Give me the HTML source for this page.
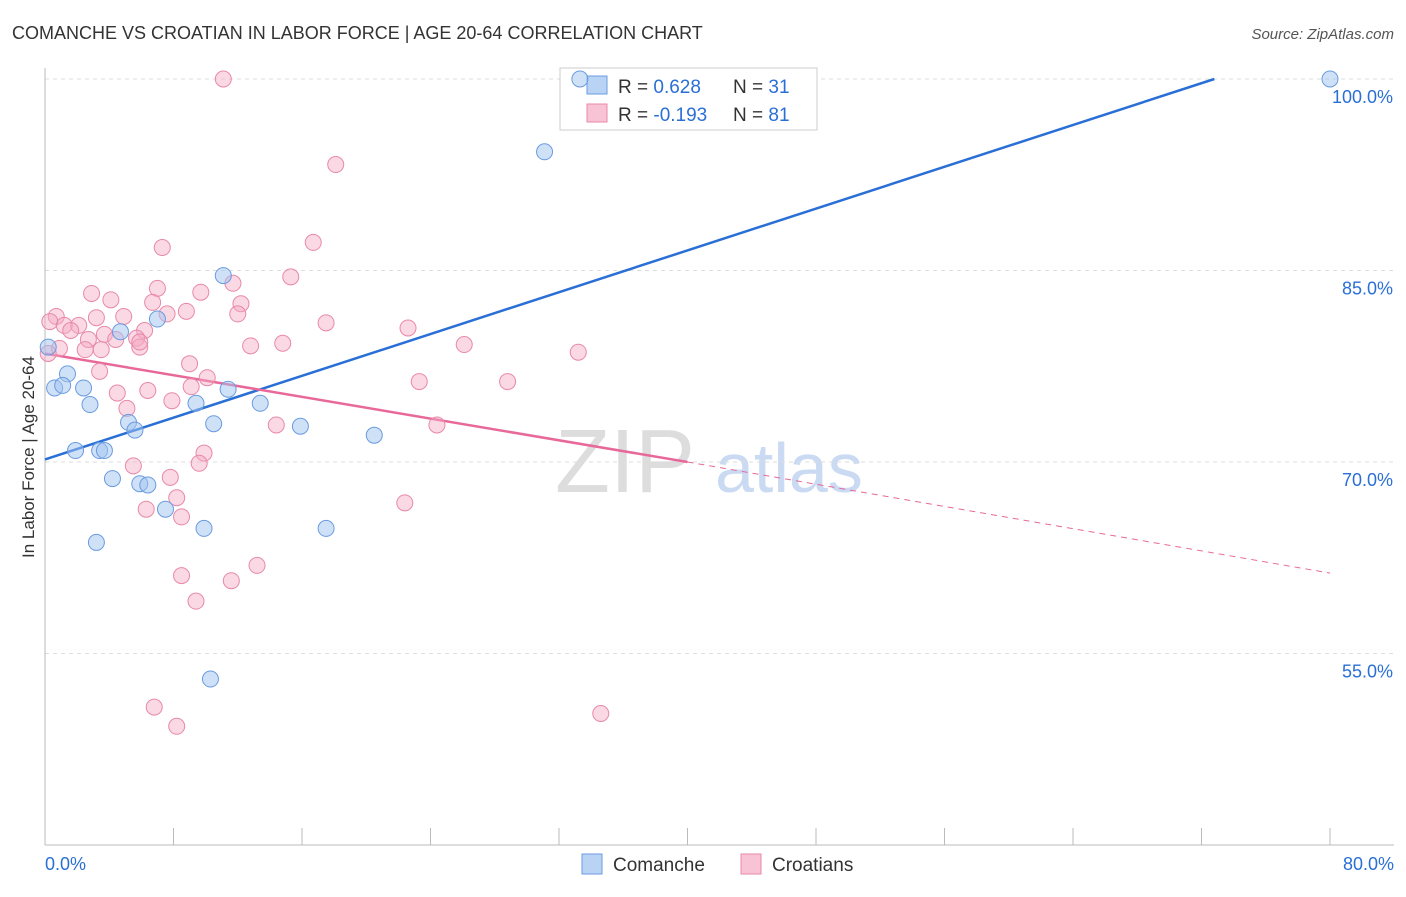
<!DOCTYPE html>
<html><head><meta charset="utf-8"><style>
body{margin:0;background:#fff;font-family:"Liberation Sans",sans-serif;}
svg text{font-family:"Liberation Sans",sans-serif;}
</style></head><body>
<svg id="chart" width="1406" height="892">
<text x="12" y="39" font-size="18" fill="#333">COMANCHE VS CROATIAN IN LABOR FORCE | AGE 20-64 CORRELATION CHART</text>
<text x="1394" y="39" font-size="15" fill="#555" text-anchor="end" font-style="italic">Source: ZipAtlas.com</text>
<text x="34" y="457" font-size="17" fill="#333" text-anchor="middle" transform="rotate(-90 34 457)">In Labor Force | Age 20-64</text>
<text x="555" y="492" font-size="90" fill="#ddd" font-family="Liberation Serif">ZIP</text>
<text x="715" y="492" font-size="70" fill="#c9daf2">atlas</text>
<g id="grid"></g><g id="lines"></g>
<g>
<rect x="560" y="68" width="257" height="62" fill="#fff" stroke="#ccc"/>
<rect x="587" y="76" width="20" height="18" fill="#b9d3f5" stroke="#6a9be0"/>
<rect x="587" y="104" width="20" height="18" fill="#f8c3d4" stroke="#e889a8"/>
<text x="618" y="93" font-size="19" fill="#333">R = <tspan fill="#2a6fd6">0.628</tspan><tspan x="733">N = </tspan><tspan fill="#2a6fd6">31</tspan></text>
<text x="618" y="121" font-size="19" fill="#333">R = <tspan fill="#2a6fd6">-0.193</tspan><tspan x="733">N = </tspan><tspan fill="#2a6fd6">81</tspan></text>
</g>
<g id="pts"></g>
<g>
<rect x="582" y="854" width="20" height="20" fill="#b9d3f5" stroke="#6a9be0"/>
<text x="613" y="871" font-size="19" fill="#333">Comanche</text>
<rect x="741" y="854" width="20" height="20" fill="#f8c3d4" stroke="#e889a8"/>
<text x="772" y="871" font-size="19" fill="#333">Croatians</text>
</g>
</svg>
<script>
const yTicks=[100,85,70,55];
const xLabels=["0.0%","80.0%"];
const blueX=[33.3,80,31.1,11.1,7.0,4.7,0.2,1.4,0.6,1.1,2.4,2.8,11.4,9.4,13.4,5.2,5.6,10.5,15.9,20.5,1.9,3.4,3.7,4.2,5.9,6.4,7.5,9.9,17.5,3.2,10.3];
const blueY=[100,100,94.3,84.6,81.2,80.2,79.0,76.9,75.8,76.0,75.8,74.5,75.7,74.6,74.6,73.1,72.5,73.0,72.8,72.1,70.9,70.9,70.9,68.7,68.3,68.2,66.3,64.8,64.8,63.7,53.0];
const pinkX=[11.1,18.1,7.3,16.7,15.3,2.9,4.1,7.0,9.7,11.7,6.7,12.2,8.8,12.0,7.6,4.9,3.2,0.7,0.3,1.2,2.1,22.6,17.5,6.2,5.7,3.7,2.7,12.8,14.8,26.1,33.2,5.9,3.5,0.9,0.2,9.0,10.1,3.4,23.3,28.8,6.4,4.5,9.1,5.1,7.9,14.4,24.4,9.9,9.6,5.5,7.8,8.2,6.3,8.5,22.4,13.2,8.5,11.6,9.4,6.8,8.2,34.6,2.5,1.6,4.4,5.9];
const pinkY=[100,93.3,86.8,87.2,84.5,83.2,82.7,83.6,83.3,84.0,82.5,82.4,81.8,81.6,81.6,81.4,81.3,81.4,81.0,80.7,80.7,80.5,80.9,80.3,79.7,80.0,79.6,79.1,79.3,79.2,78.6,79.0,78.8,78.9,78.5,77.7,76.6,77.1,76.3,76.3,75.6,75.4,75.9,74.2,74.8,72.9,72.9,70.7,69.9,69.7,68.8,67.2,66.3,65.7,66.8,61.9,61.1,60.7,59.1,50.8,49.3,50.3,78.8,80.3,79.6,79.4];
const blueLine=[0,70.2,72.8,100];
const pinkLine=[0,78.5,40,70.0,80,61.3];
const X=v=>45+v/80*1285, Y=v=>79+(100-v)*191.5/15;
const NS="http://www.w3.org/2000/svg";
function mk(p,t,a){const e=document.createElementNS(NS,t);for(const k in a)e.setAttribute(k,a[k]);p.appendChild(e);return e;}
const g=document.getElementById('grid');
yTicks.forEach(v=>{
 const l=mk(g,'line',{x1:45,x2:1394,y1:Y(v),y2:Y(v),stroke:'#ddd','stroke-dasharray':'4,4'});
 
 
 const t=mk(g,'text',{x:1393,y:Y(v)+24,'font-size':18,fill:'#2a6fd6','text-anchor':'end'});t.textContent=v.toFixed(1)+'%';
 
 
});
mk(g,'line',{x1:45,x2:45,y1:68,y2:845,stroke:'#bbb'});
mk(g,'line',{x1:45,x2:1394,y1:845,y2:845,stroke:'#bbb'});
for(let i=0;i<=10;i++){const x=X(i*8);mk(g,'line',{x1:x,x2:x,y1:828,y2:845,stroke:'#bbb'});}
[[0,'start',45],[1,'end',1394]].forEach(([i,a,x])=>{const t=mk(g,'text',{x:x,y:870,'font-size':18,fill:'#2a6fd6','text-anchor':a});t.textContent=xLabels[i];
 
 });
const L=document.getElementById('lines');
const bl=mk(L,'line',{x1:X(blueLine[0]),y1:Y(blueLine[1]),x2:X(blueLine[2]),y2:Y(blueLine[3]),stroke:'#2a6fd6','stroke-width':2.5});


const pl=mk(L,'line',{x1:X(pinkLine[0]),y1:Y(pinkLine[1]),x2:X(pinkLine[2]),y2:Y(pinkLine[3]),stroke:'#e8689a','stroke-width':2.5});


const pd=mk(L,'line',{x1:X(pinkLine[2]),y1:Y(pinkLine[3]),x2:X(pinkLine[4]),y2:Y(pinkLine[5]),stroke:'#e8689a','stroke-width':1,'stroke-dasharray':'6,5'});


const P=document.getElementById('pts');
pinkX.forEach((x,i)=>{const c=mk(P,'circle',{cx:X(x),cy:Y(pinkY[i]),r:8,fill:'rgba(245,170,195,0.45)',stroke:'#e889a8','stroke-width':1});
 
 });
blueX.forEach((x,i)=>{const c=mk(P,'circle',{cx:X(x),cy:Y(blueY[i]),r:8,fill:'rgba(160,195,240,0.5)',stroke:'#6a9be0','stroke-width':1});
 
 });
</script>
</body></html>
